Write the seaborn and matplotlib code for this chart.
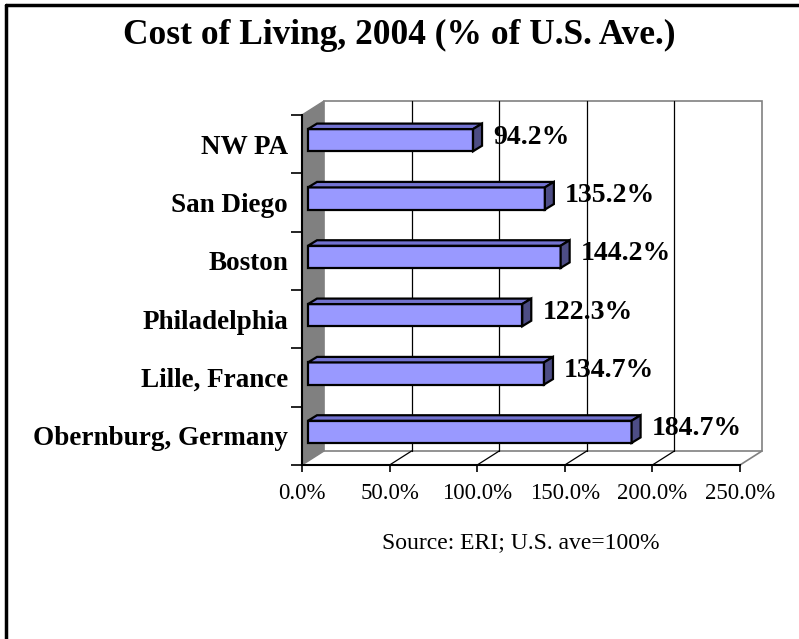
import seaborn as sns
import pandas as pd
import matplotlib.pyplot as plt
from matplotlib.patches import Polygon

cities = ["NW PA", "San Diego", "Boston", "Philadelphia", "Lille, France", "Obernburg, Germany"]
cost = [94.2, 135.2, 144.2, 122.3, 134.7, 184.7]
xticks = [0, 50, 100, 150, 200, 250]

data = pd.DataFrame({"city": cities, "cost": cost})

sns.set_style("white")
plt.rcParams["font.family"] = ["Liberation Serif", "DejaVu Serif"]
plt.rcParams["text.color"] = "black"
plt.rcParams["xtick.color"] = "black"
plt.rcParams["ytick.color"] = "black"

fig = plt.figure(figsize=(7.99, 6.39), dpi=100)
W, H = 799, 639
# front plane of the 3d box, in pixels
left, right, top, bottom = 302, 740, 115, 465
ax = fig.add_axes([left / W, (H - bottom) / H, (right - left) / W, (bottom - top) / H])

sns.barplot(data=data, x="cost", y="city", orient="h", color="#9999FF", width=0.38,
            edgecolor="black", linewidth=1.6, saturation=1, ax=ax, zorder=3)
ax.set_xlim(0, 250)
ax.set_ylim(len(cities) - 0.5, -0.5)

# pixel -> data helpers
kx = 250 / (right - left)
ky = len(cities) / (bottom - top)
def off(dx, dy):
    return dx * kx, -dy * ky

Dx, Dy = off(22, 14)      # full depth of box
bx, by = off(6, 4)        # bar front plane
dx, dy = off(9, 5.5)      # bar depth
y0, y1 = -0.5, len(cities) - 0.5

# walls
ax.add_patch(Polygon([(0, y1), (Dx, y1 + Dy), (Dx, y0 + Dy), (0, y0)], closed=True,
                     facecolor="#808080", edgecolor="#808080", lw=1, clip_on=False, zorder=0))
ax.add_patch(Polygon([(Dx, y0 + Dy), (250 + Dx, y0 + Dy), (250 + Dx, y1 + Dy), (Dx, y1 + Dy)],
                     closed=True, facecolor="white", edgecolor="#808080", lw=1.2,
                     clip_on=False, zorder=0))
ax.plot([250, 250 + Dx], [y1, y1 + Dy], color="#808080", lw=1.2, clip_on=False, zorder=1)
for v in xticks[1:-1]:
    ax.plot([v + Dx, v + Dx], [y0 + Dy, y1 + Dy], color="black", lw=0.9, clip_on=False, zorder=1)
    ax.plot([v, v + Dx], [y1, y1 + Dy], color="black", lw=0.9, clip_on=False, zorder=1)

# 3d bars
for p in list(ax.patches):
    if isinstance(p, Polygon):
        continue
    p.set_x(p.get_x() + bx)
    p.set_y(p.get_y() + by)
    x0, w, yt, h = p.get_x(), p.get_width(), p.get_y(), p.get_height()
    ax.add_patch(Polygon([(x0, yt), (x0 + w, yt), (x0 + w + dx, yt + dy), (x0 + dx, yt + dy)],
                         closed=True, facecolor="#7373D0", edgecolor="black", lw=1.6,
                         clip_on=False, zorder=3))
    ax.add_patch(Polygon([(x0 + w, yt), (x0 + w, yt + h), (x0 + w + dx, yt + h + dy),
                          (x0 + w + dx, yt + dy)],
                         closed=True, facecolor="#4D4D85", edgecolor="black", lw=1.6,
                         clip_on=False, zorder=3))

for i, v in enumerate(cost):
    ax.text(v + bx + 20 * kx, i + by - 3 * ky, f"{v:.1f}%", ha="left", va="center",
            fontsize=20, fontweight="bold", zorder=5, clip_on=False)

# axes
for s in ["top", "right"]:
    ax.spines[s].set_visible(False)
for s in ["left", "bottom"]:
    ax.spines[s].set_color("black")
    ax.spines[s].set_linewidth(1.5)
    ax.spines[s].set_zorder(4)
ax.set_xticks(xticks)
ax.set_xticklabels([f"{v:.1f}%" for v in xticks], fontsize=16.5)
ax.set_yticks(range(len(cities)))
ax.set_yticklabels(cities, fontsize=19.5, fontweight="bold")
ax.set_yticks([i - 0.5 for i in range(len(cities) + 1)], minor=True)
ax.tick_params(axis="y", which="major", length=0, pad=10)
ax.tick_params(axis="y", which="minor", length=8, width=1.2, color="black", direction="out", left=True)
ax.tick_params(axis="x", length=5, width=1.2, color="black", direction="out", pad=8, bottom=True)
ax.set_xlabel("")
ax.set_ylabel("")
ax.set_facecolor("none")

fig.text(0.5, 1 - 35 / H, "Cost of Living, 2004 (% of U.S. Ave.)", ha="center", va="center",
         fontsize=25.5, fontweight="bold")
fig.text(521 / W, 1 - 543 / H, "Source: ERI; U.S. ave=100%", ha="center", va="center", fontsize=17)

# chart frame (only top and left visible)
fig.add_artist(plt.Line2D([6 / W, 1], [1 - 5 / H, 1 - 5 / H], color="black", lw=2.5,
                          transform=fig.transFigure))
fig.add_artist(plt.Line2D([6 / W, 6 / W], [0, 1 - 5 / H], color="black", lw=2.5,
                          transform=fig.transFigure))

fig.savefig("out.png", dpi=100, facecolor="white")
